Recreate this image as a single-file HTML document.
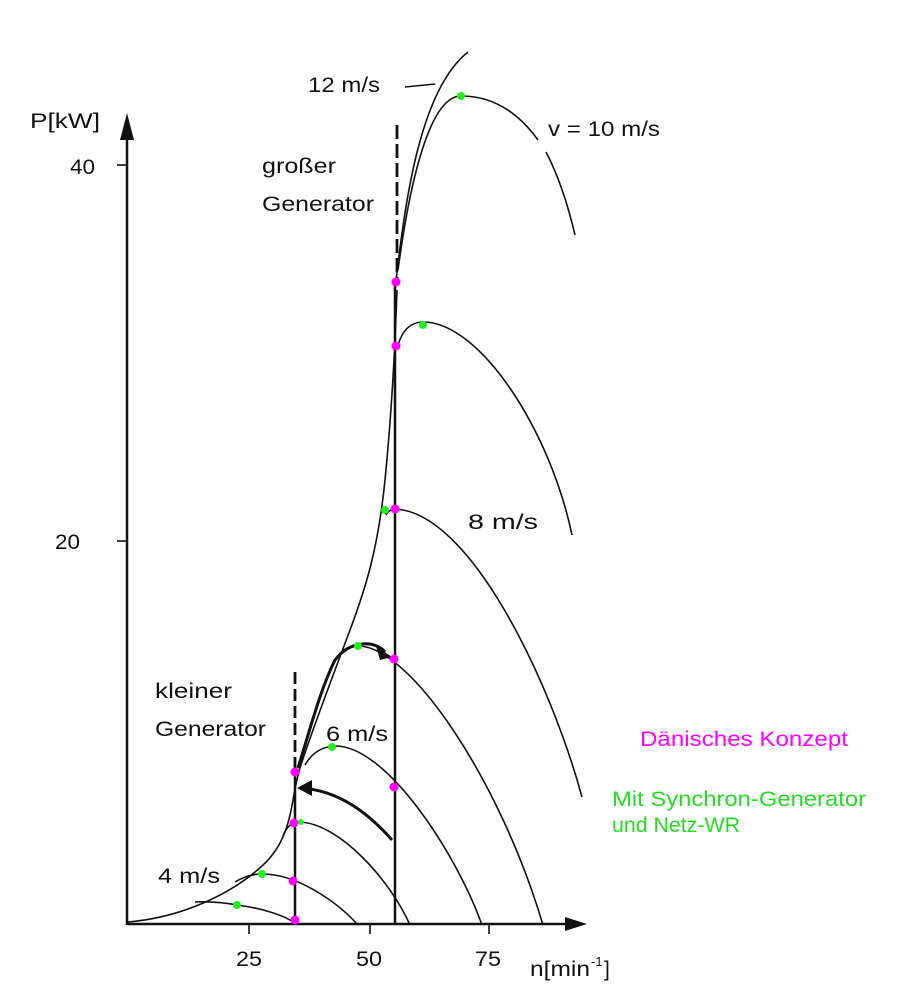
<!DOCTYPE html>
<html><head><meta charset="utf-8"><style>
html,body{margin:0;padding:0;background:#fff}
svg{display:block}
text{font-family:"Liberation Sans",Arial,sans-serif;font-size:21px;fill:#111}
</style></head><body>
<svg width="915" height="1000" viewBox="0 0 915 1000" xmlns="http://www.w3.org/2000/svg">
<g fill="none" stroke="#111" stroke-width="1.6">
<line x1="127" y1="925" x2="127" y2="130" stroke-width="2.5"/>
<line x1="127" y1="924" x2="570" y2="924" stroke-width="2.5"/>
<line x1="117" y1="165" x2="127" y2="165"/>
<line x1="117" y1="541" x2="127" y2="541"/>
<line x1="249" y1="924" x2="249" y2="934"/>
<line x1="370" y1="924" x2="370" y2="934"/>
<line x1="489" y1="924" x2="489" y2="934"/>
<line x1="295" y1="770" x2="295" y2="924" stroke-width="2.5"/>
<line x1="395" y1="280" x2="395" y2="924" stroke-width="2.5"/>
<line x1="295" y1="672" x2="295" y2="770" stroke-width="2.8" stroke-dasharray="12,5"/>
<line x1="397" y1="125" x2="397" y2="280" stroke-width="2.8" stroke-dasharray="14,5"/>
<path d="M127,922 C180,918 230,895 262,866 S290,800 300,768 S335,670 350,630 S378,550 385,480 S395,350 397,290"/>
<path d="M195,902 Q215,901 237,905 C260,908 285,915 296,924"/>
<path d="M235,882 Q248,874 262,874 C300,874 340,905 358,925"/>
<path d="M283,836 Q288,822 300,822 C340,824 390,880 410,925"/>
<path d="M305,765 Q315,747 335,746 C385,745 455,850 482,925"/>
<path d="M336,660 Q342,646 358,646 C410,646 500,780 543,925"/>
<path d="M386,515 Q388,510 395,509 C470,512 550,680 582,797"/>
<path d="M398,345 Q405,322 423,322 C480,322 550,430 572,535"/>
<path d="M398,270 C410,180 430,96 461,96 C495,96 520,115 538,140"/>
<path d="M546,152 C558,175 568,205 575,235"/>
<path d="M395,290 C405,200 420,90 468,52"/>
<line x1="405" y1="87" x2="435" y2="84"/>
<path d="M392,840 C370,815 340,790 300,788" stroke-width="3"/>
<path d="M298,768 C310,730 320,690 335,660 C350,640 375,640 385,652" stroke-width="3"/>
</g>
<polygon points="127,113 120,140 134,140" fill="#111"/>
<polygon points="587,924 565,917 565,931" fill="#111"/>
<polygon points="297,788 312,780 312,796" fill="#111"/>
<polygon points="392,657 376,646 380,660" fill="#111"/>
<g fill="#ff00ff">
<circle cx="295" cy="920" r="4.5"/><circle cx="293" cy="881" r="4.5"/><circle cx="294" cy="823" r="4.5"/><circle cx="295" cy="772" r="4.5"/>
<circle cx="394" cy="787" r="4.5"/><circle cx="394" cy="659" r="4.5"/><circle cx="395" cy="509" r="4.5"/><circle cx="396" cy="346" r="4.5"/><circle cx="396" cy="282" r="4.5"/>
</g>
<g fill="#22ee22">
<circle cx="237" cy="905" r="4"/><circle cx="262" cy="874" r="4"/><circle cx="301" cy="822" r="3"/><circle cx="332" cy="747" r="4"/><circle cx="358" cy="646" r="4"/><circle cx="385" cy="510" r="4"/><circle cx="423" cy="325" r="4"/><circle cx="461" cy="96" r="4"/>
</g>
<text x="30" y="128" textLength="70" lengthAdjust="spacingAndGlyphs">P[kW]</text>
<text x="70" y="174" textLength="25" lengthAdjust="spacingAndGlyphs">40</text>
<text x="55" y="549" textLength="25" lengthAdjust="spacingAndGlyphs">20</text>
<text x="236" y="966" textLength="26" lengthAdjust="spacingAndGlyphs">25</text>
<text x="356" y="966" textLength="26" lengthAdjust="spacingAndGlyphs">50</text>
<text x="475" y="966" textLength="26" lengthAdjust="spacingAndGlyphs">75</text>
<text x="530" y="976" textLength="60" lengthAdjust="spacingAndGlyphs">n[min</text><text x="591" y="966" style="font-size:13px">-1</text><text x="604" y="976">]</text>
<text x="308" y="92" textLength="72" lengthAdjust="spacingAndGlyphs">12 m/s</text>
<text x="548" y="136" textLength="112" lengthAdjust="spacingAndGlyphs">v = 10 m/s</text>
<text x="262" y="173" textLength="74" lengthAdjust="spacingAndGlyphs">großer</text>
<text x="262" y="211" textLength="112" lengthAdjust="spacingAndGlyphs">Generator</text>
<text x="468" y="529" textLength="70" lengthAdjust="spacingAndGlyphs">8 m/s</text>
<text x="155" y="698" textLength="77" lengthAdjust="spacingAndGlyphs">kleiner</text>
<text x="155" y="736" textLength="111" lengthAdjust="spacingAndGlyphs">Generator</text>
<text x="326" y="741" textLength="62" lengthAdjust="spacingAndGlyphs">6 m/s</text>
<text x="158" y="883" textLength="62" lengthAdjust="spacingAndGlyphs">4 m/s</text>
<text x="640" y="746" style="fill:#ff00ff" textLength="208" lengthAdjust="spacingAndGlyphs">Dänisches Konzept</text>
<text x="612" y="806" style="fill:#22dd22" textLength="254" lengthAdjust="spacingAndGlyphs">Mit Synchron-Generator</text>
<text x="612" y="832" style="fill:#22dd22;font-size:21px" textLength="128" lengthAdjust="spacingAndGlyphs">und Netz-WR</text>
</svg>
</body></html>
